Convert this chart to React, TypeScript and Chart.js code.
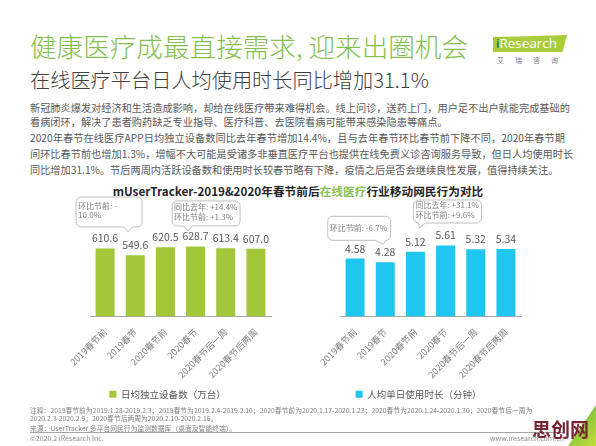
import React, { useEffect, useRef } from "react";
import { Chart, registerables } from "chart.js";

Chart.register(...registerables);

const FONT = "'Noto Sans CJK SC', 'Noto Sans', sans-serif";

// ---------- data ----------
const categories = ["2019春节前", "2019春节", "2020春节前", "2020春节", "2020春节后一周", "2020春节后两周"];
const devicesLabel = "日均独立设备数（万台）";
const devicesValues = [610.6, 549.6, 620.5, 628.7, 613.4, 607.0];
const durationLabel = "人均单日使用时长（分钟）";
const durationValues = [4.58, 4.28, 5.12, 5.61, 5.32, 5.34];

const devicesCalloutBars = [0, 3];
const devicesCalloutTexts = [["环比节前: -", "10.0%"], ["同比去年: +14.4%", "环比节前: +1.3%"]];
const durationCalloutBars = [1, 3];
const durationCalloutTexts = [["环比节前: -6.7%"], ["同比去年: +31.1%", "环比节前: +9.6%"]];

const titleText = "健康医疗成最直接需求, 迎来出圈机会";
const subtitleText = "在线医疗平台日人均使用时长同比增加31.1%";
const bodyLines = [
  "新冠肺炎爆发对经济和生活造成影响，却给在线医疗带来难得机会。线上问诊，送药上门，用户足不出户就能完成基础的",
  "看病闭环，解决了患者购药缺乏专业指导、医疗科普、去医院看病可能带来感染隐患等痛点。",
  "2020年春节在线医疗APP日均独立设备数同比去年春节增加14.4%，且与去年春节环比春节前下降不同，2020年春节期",
  "间环比春节前也增加1.3%，增幅不大可能是受诸多非垂直医疗平台也提供在线免费义诊咨询服务导致，但日人均使用时长",
  "同比增加31.1%。节后两周内活跃设备数和使用时长较春节略有下降，疫情之后是否会继续良性发展，值得持续关注。",
];
const chartTitleA = "mUserTracker-2019&2020年春节前后";
const chartTitleB = "在线医疗";
const chartTitleC = "行业移动网民行为对比";
const noteLines = [
  "注释：2019春节前为2019.1.28-2019.2.3；2019春节为2019.2.4-2019.2.10；2020春节前为2020.1.17-2020.1.23；2020春节为2020.1.24-2020.1.30；2020春节后一周为",
  "2020.2.3-2020.2.9；2020春节后两周为2020.2.10-2020.2.16。",
];
const sourceText = "来源：UserTracker 多平台网民行为监测数据库（桌面及智能终端）。";
const copyrightText = "©2020.2 iResearch Inc.";
const siteText = "www.iresearch.com.cn";

// ---------- helpers ----------
type Geom = { dx: number; dy: number; w: number; h: number; b1: number; b2: number; tx: number; ty: number };

function bubble(ctx: CanvasRenderingContext2D, x: number, y: number, w: number, h: number, r: number, b1: number, b2: number, tx: number, ty: number) {
  ctx.beginPath();
  ctx.moveTo(x + r, y);
  ctx.lineTo(x + w - r, y);
  ctx.arcTo(x + w, y, x + w, y + r, r);
  ctx.lineTo(x + w, y + h - r);
  ctx.arcTo(x + w, y + h, x + w - r, y + h, r);
  ctx.lineTo(Math.min(b2, x + w - r), y + h);
  ctx.lineTo(tx, ty);
  ctx.lineTo(Math.max(b1, x + r), y + h);
  ctx.lineTo(x + r, y + h);
  ctx.arcTo(x, y + h, x, y + h - r, r);
  ctx.lineTo(x, y + r);
  ctx.arcTo(x, y, x + r, y, r);
  ctx.closePath();
  ctx.fillStyle = "#ffffff";
  ctx.fill();
  ctx.strokeStyle = "#bfbfbf";
  ctx.lineWidth = 1;
  ctx.stroke();
}

function makeLabelPlugin(decimals: number, bars: number[], texts: string[][], geoms: Geom[]) {
  return {
    id: "valueLabelsAndCallouts",
    afterDatasetsDraw(chart: any) {
      const ctx: CanvasRenderingContext2D = chart.ctx;
      const meta = chart.getDatasetMeta(0);
      const values = chart.data.datasets[0].data as number[];
      ctx.save();
      ctx.font = `10.5px ${FONT}`;
      ctx.fillStyle = "#595959";
      ctx.textAlign = "center";
      ctx.textBaseline = "middle";
      meta.data.forEach((bar: any, i: number) => {
        ctx.fillText(values[i].toFixed(decimals), bar.x, bar.y - 10);
      });
      bars.forEach((bi, k) => {
        const bar = meta.data[bi];
        const g = geoms[k];
        const x = bar.x + g.dx;
        const y = bar.y + g.dy;
        bubble(ctx, x, y, g.w, g.h, 5, bar.x + g.b1, bar.x + g.b2, bar.x + g.tx, bar.y + g.ty);
        ctx.font = `8px ${FONT}`;
        ctx.fillStyle = "#7f7f7f";
        ctx.textAlign = "left";
        ctx.textBaseline = "middle";
        const lines = texts[k];
        const lh = 9.5;
        const startY = y + g.h / 2 - ((lines.length - 1) * lh) / 2 - (lines.length > 1 ? 1.5 : 0);
        lines.forEach((t, li) => ctx.fillText(t, x + 2, startY + li * lh));
      });
      ctx.restore();
    },
  };
}

type PanelProps = {
  left: number; top: number; width: number; height: number;
  padLeft: number; padRight: number; yGap: number; xHeight: number;
  label: string; values: number[]; color: string; max: number; decimals: number;
  bars: number[]; texts: string[][]; geoms: Geom[];
};

function BarPanel(p: PanelProps) {
  const ref = useRef<HTMLCanvasElement>(null);
  useEffect(() => {
    const chart = new Chart(ref.current!, {
      type: "bar",
      data: {
        labels: categories,
        datasets: [{ label: p.label, data: p.values, backgroundColor: p.color, borderWidth: 0, barPercentage: 0.63, categoryPercentage: 1 }],
      },
      options: {
        animation: false,
        responsive: false,
        maintainAspectRatio: false,
        devicePixelRatio: 1,
        layout: { padding: { left: p.padLeft, right: p.padRight, top: 0, bottom: 0 } },
        scales: {
          x: {
            grid: { display: false },
            border: { display: true, color: "#a6a6a6", width: 1 },
            ticks: { minRotation: 45, maxRotation: 45, autoSkip: false, color: "#808080", font: { size: 9, family: FONT }, padding: 2 },
            afterFit: (s: any) => { s.height = p.xHeight; },
          },
          y: {
            display: true, min: 0, max: p.max,
            grid: { display: false }, border: { display: false }, ticks: { display: false },
            afterFit: (s: any) => { s.width = p.yGap; },
          },
        },
        plugins: {
          legend: {
            position: "bottom",
            labels: { boxWidth: 7, boxHeight: 7, padding: 5, color: "#595959", font: { size: 9.5, family: FONT } },
          },
          tooltip: { enabled: false },
        },
      } as any,
      plugins: [makeLabelPlugin(p.decimals, p.bars, p.texts, p.geoms)],
    });
    return () => chart.destroy();
  }, []);
  return (
    <canvas ref={ref} width={p.width} height={p.height}
      style={{ position: "absolute", left: p.left, top: p.top, width: p.width, height: p.height }} />
  );
}

const abs = (left: number, top: number, extra: React.CSSProperties = {}): React.CSSProperties => ({
  position: "absolute", left, top, whiteSpace: "nowrap", fontFamily: FONT, lineHeight: 1, ...extra,
});

export default function App() {
  const devGeoms: Geom[] = [
    { dx: -29, dy: -51.5, w: 66, h: 30, b1: 19, b2: 27, tx: 23, ty: -16.5 },
    { dx: -23.5, dy: -45.5, w: 68, h: 25, b1: -12.5, b2: -3.5, tx: -7.5, ty: -15.5 },
  ];
  const durGeoms: Geom[] = [
    { dx: -57.5, dy: -46, w: 63, h: 24, b1: -10, b2: 1, tx: -2, ty: -18 },
    { dx: -32, dy: -45.5, w: 68, h: 23, b1: -30, b2: -20, tx: -26, ty: -17.5 },
  ];
  return (
    <div style={{ position: "absolute", left: 0, top: 0, width: 596, height: 446, background: "#ffffff", overflow: "hidden", fontFamily: FONT }}>
      <div style={abs(30, 33, { fontSize: 26.6, color: "#86bf4f", fontWeight: 300 })}>{titleText}</div>
      <div style={abs(30, 70, { fontSize: 20.2, color: "#404040", fontWeight: 300 })}>{subtitleText}</div>

      {/* logo */}
      <div style={{ position: "absolute", left: 493, top: 35, width: 74, height: 17, background: "#a8cd3a", clipPath: "polygon(0 12%, 100% 0, 94% 100%, 0 100%)" }} />
      <div style={abs(496, 37, { fontSize: 13.5, color: "#ffffff", fontFamily: "'Open Sans', sans-serif" })}>
        <span style={{ color: "#1f3d7a" }}>i</span>Research
      </div>
      <div style={abs(497, 57, { fontSize: 7, color: "#808080", letterSpacing: 11 })}>艾瑞咨询</div>

      {bodyLines.map((t, i) => (
        <div key={i} style={abs(30, [102.5, 116.5, 133, 149, 164.5][i], {
          fontSize: 10.2, color: "#595959", width: 535,
          textAlign: i === 1 || i === 4 ? "left" : "justify",
          textAlignLast: i === 1 || i === 4 ? "left" : "justify",
        } as React.CSSProperties)}>{t}</div>
      ))}

      <div style={abs(0, 184.5, { width: 596, textAlign: "center", fontSize: 11.7, fontWeight: 700, color: "#262626" })}>
        {chartTitleA}<span style={{ color: "#8cc152" }}>{chartTitleB}</span>{chartTitleC}
      </div>

      <BarPanel left={60} top={195} width={230} height={214} padLeft={4} padRight={19} yGap={26} xHeight={68}
        label={devicesLabel} values={devicesValues} color="#a2c739" max={1090} decimals={1}
        bars={devicesCalloutBars} texts={devicesCalloutTexts} geoms={devGeoms} />
      <BarPanel left={310} top={195} width={230} height={214} padLeft={6} padRight={19} yGap={24} xHeight={68}
        label={durationLabel} values={durationValues} color="#1fc6ef" max={9.6} decimals={2}
        bars={durationCalloutBars} texts={durationCalloutTexts} geoms={durGeoms} />

      {noteLines.map((t, i) => (
        <div key={i} style={abs(30, 406.5 + i * 8.5, { fontSize: 6.8, color: "#7f7f7f" })}>{t}</div>
      ))}
      <div style={abs(30, 424.5, { fontSize: 6.8, color: "#7f7f7f" })}>{sourceText}</div>
      <div style={{ position: "absolute", left: 30, top: 432, width: 535, height: 1, background: "#a6a6a6" }} />
      <div style={abs(30, 435, { fontSize: 7, color: "#8c8c8c" })}>{copyrightText}</div>
      <div style={abs(490, 435, { fontSize: 7, color: "#8c8c8c" })}>{siteText}</div>

      {/* corner decoration and watermark */}
      <div style={{ position: "absolute", left: 568, top: 405, width: 28, height: 41, background: "linear-gradient(135deg, #2aa7d8 0%, #8cc63f 45%, #c4df3a 100%)", clipPath: "polygon(100% 0, 100% 100%, 0 100%)" }} />
      <div style={abs(532, 419, { fontSize: 19, fontWeight: 700, color: "#7a2333" })}>思创网</div>
    </div>
  );
}
